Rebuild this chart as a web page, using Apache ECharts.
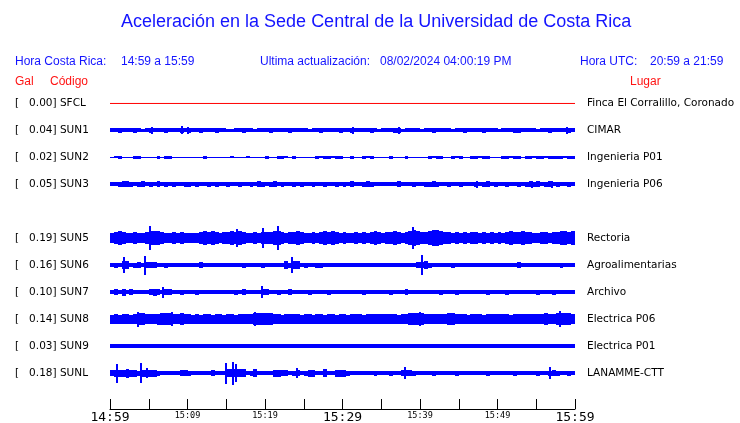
<!DOCTYPE html>
<html><head><meta charset="utf-8">
<script src="https://cdn.jsdelivr.net/npm/echarts@6/dist/echarts.min.js"></script>
<style>html,body{margin:0;padding:0;background:#fff}#c{width:740px;height:423px}</style>
</head><body><div id="c"></div>
<script>
// ---- data ----
const codes = ['SFCL','SUN1','SUN2','SUN3',null,'SUN5','SUN6','SUN7','SUN8','SUN9','SUNL'];
const peakGal = [0.00,0.04,0.02,0.05,null,0.19,0.16,0.10,0.14,0.03,0.18];
const places = ['Finca El Corralillo, Coronado','CIMAR','Ingenieria P01','Ingenieria P06',null,'Rectoria','Agroalimentarias','Archivo','Electrica P06','Electrica P01','LANAMME-CTT'];
const timeLabels = ['14:59','15:09','15:19','15:29','15:39','15:49','15:59'];
const sampleStep = 0.5; // minutes per envelope sample
const ampSFCL = [0,0];
// dense band half-amplitude, one value per half minute
const bandSUN1 = [
2,2,2.5,2,2,2,2.5,2,1.5,2, 2.5,2,2,2,2.5,2,2,2,2.5,2, 2.5,2,2,2.5,2,2,2,2.5,2,2, 1.5,1.5,2,2,2.5,2,2,1.5,2,2,
2,2.5,2,2,2,2,2.5,2,2,2, 2,1.5,2,2,2.5,2,2,2,2,2.5, 2,2,2.5,2,2,2,2,2.5,2,1.5, 2,2,2,2.5,2.5,1.5,2,2,2,2,
1.5,2,2,2.5,2,2,2,2,1.5,2, 2,2.5,2,2,2,2,2.5,2,2,2, 1.5,2,2,2,2.5,2.5,2,2,2,2, 1.5,2,2,2.5,2,2,2,2,2.5,2];
const bandSUN2 = [
0.75,1,1.5,0.75,0.75,0.75,1.5,1.5,0.75,0.75, 0.75,0.75,1.5,0.75,1.5,1.5,0.75,0.75,0.75,0.75,
0.75,0.75,0.75,0.75,1.5,0.75,0.75,0.75,0.75,0.75, 0.75,1,0.75,0.75,0.75,1,0.75,0.75,0.75,0.75,
1.5,0.75,0.75,1.5,1.5,1,0.75,1.5,0.75,0.75, 0.75,0.75,0.75,1.5,1,1.5,1.5,1,1.5,1.5,
0.75,0.75,1.5,0.75,0.75,1.5,1,1.5,0.75,0.75, 0.75,0.75,1.5,0.75,0.75,0.75,1.5,0.75,0.75,0.75,
0.75,0.75,1.5,1,1.5,1.5,0.75,0.75,1.5,1, 1.5,0.75,0.75,1.5,1.5,1,1.5,1.5,0.75,0.75,
0.75,1.5,1.5,1,1.5,1.5,0.75,1.5,1.5,1, 1.5,1.5,1,1.5,1.5,1.5,1.5,1,1.5,1.5];
const bandSUN3 = [
2,2,2.5,3,3,2.5,2,2.5,3,2, 2.5,2,3,2,2.5,2,2.5,2,2,2.5, 2.5,2,2.5,2,2,2.5,2,2.5,2,2,
2.5,2,2,2.5,2,2,2.5,2,3,2.5, 2,2.5,3,2,2.5,2,2,2.5,2,2.5, 2,2,2.5,2,2,2.5,2,2,2.5,2,
2.5,2,3,2,2,2.5,3,2.5,2,2, 2,2,2,2,3,2,2,2,2.5,2, 2,2.5,2.5,3,2.5,2,2,2.5,2,2,
2.5,2,2,2,2.5,2,2.5,3,2,2.5, 2,2,2.5,2,2,2.5,2,2.5,3,2.5, 3,2,2.5,3,2,2.5,2,2,2.5,2];
const bandSUN5 = [
5,6,7,6,5,5,6,5,5,6, 7,7,7,6,5,5,6,5,6,5, 5,5,5,6,7,6,7,6,5,6, 6,7,6,7,6,5,5,6,5,6,
6,6,7,7,6,5,6,6,7,6, 5,5,6,5,6,7,6,7,6,5, 6,5,5,6,5,6,5,6,7,6, 5,6,6,7,6,5,6,7,8,7,
6,6,7,8,8,7,6,6,5,6, 5,6,5,6,6,5,6,5,6,5, 6,5,6,7,6,6,7,6,6,5, 5,6,6,5,6,6,7,7,6,7];
const bandSUN6 = [
2,2.5,2,4,4,2,2.5,3,2,3, 3,3,2,2,2.5,2,2,2,2,2, 2,2,2,3,2,2,2,2,2,2, 2,2,2,2,2.5,2,2,2,2,2.5,
2,2,2,2,2,4,2.5,4,4,2, 2.5,2,2,2.5,2.5,2,2,2,2,2, 2,2,2,2,2,2,2,2,2,2, 2,2,2,2,2,2,2,2,2,3,
3,4,2.5,2,2,2,2,2,2.5,2, 2,2,2,2,2,2,2,2,2,2, 2,2,2,2,2,3,2,2,2,2, 2,2,2,2,2,2,2.5,2,2,2];
const bandSUN7 = [
2,3,2,3.5,2,3,2,2,2,2, 3,3.5,3,2,3,3,2,2,2.5,2, 2,2,2.5,2,2,2,2,2,2,2, 2,2,2.5,2,3,2,2,2,2,3,
3,2,2,2.5,2,2,3,2,2,2, 2,2.5,2,2,2,2,2.5,2,2,2, 2,2,2,2,2,2.5,2,2,2,2, 2,2,2.5,2,2,2,3,2,2,2,
2,2,2,2,2,2.5,2,2,2,2.5, 2,2,2,2,2,2,2,2.5,2,2, 2,2,2.5,2,2,2,2,2,2,2, 2.5,2,2,2,2.5,2,2,2,2,2];
const bandSUN8 = [
4.5,5,4.5,5,5,4.5,5,6,6,5, 5,5,5.5,6,6,6,5,5,6,5, 5,4.5,5,4.5,5,5,4.5,5,5,4.5, 5,5,4.5,5,5,5,5,6,6,6,
6,6,5,5,4.5,5,5,5,5,4.5, 5,5,4.5,5,5,4.5,5,5,4.5,5, 5,4.5,5,5,5,4.5,5,5,5,5, 5,5,5,5,4.5,5,5,6,6,6,
6,5,5,5,5,5,5,6,6,5, 5,5,4.5,5,5,5,4.5,5,5,5, 5,5,5,4.5,5,5,5,5,5,5, 5,5,6,5,5,6,6,6,6,5];
const bandSUN9 = [
1.75,1.75,2,1.75,1.75,1.75,1.75,1.75,2,1.75, 1.75,1.75,1.75,1.75,1.75,2,1.75,1.75,1.75,1.75,
1.75,1.75,1.75,1.75,1.75,1.75,1.75,2,1.75,1.75, 1.75,1.75,1.75,1.75,1.75,1.75,1.75,1.75,1.75,1.75,
1.75,1.75,1.75,2,1.75,1.75,1.75,1.75,1.75,1.75, 1.75,1.75,1.75,1.75,1.75,1.75,1.75,1.75,1.75,1.75,
1.75,1.75,1.75,1.75,1.75,1.75,2,1.75,1.75,1.75, 1.75,1.75,1.75,1.75,1.75,1.75,1.75,1.75,1.75,1.75,
1.75,1.75,1.75,1.75,1.75,1.75,1.75,1.75,1.75,1.75, 1.75,1.75,2,1.75,1.75,1.75,1.75,1.75,1.75,1.75,
1.75,1.75,1.75,1.75,1.75,1.75,1.75,1.75,1.75,1.75, 1.75,1.75,1.75,1.75,1.75,1.75,1.75,1.75,1.75,1.75];
const bandSUNL = [
3,3.5,3.5,3.5,4.5,3.5,3.5,2.5,3.5,3.5, 3.5,3.5,2.5,2,2,2,2,2,3,3, 2.5,2,2,2,2,2,3,2,2,2, 4,4,4,4,4,2,2.5,4,2,2,
2,2,3.5,3.5,3,3,2,2.5,3,2, 2.5,3.5,3.5,2,2,4,2,2,3.5,3.5, 3.5,2.5,2,2,2,2,2,2,2.5,2, 2,2,2.5,2,2,3,3,3,2.5,2,
2,2,2,2.5,2,2,2,2,2,2.5, 2,2,2,2,2,2,2,2.5,2,2, 2,2,2,2,2.5,2,2,2,2,2, 2.5,2,2,2.5,3,2.5,2,2,2.5,2];
// isolated spikes: [minute, half-amplitude]
const spikesSUN1 = [[5.4,3.5],[9.3,4],[10.1,3.5],[31.4,3.5],[37.3,3.5],[59,3.5]];
const spikesSUN2 = [];
const spikesSUN3 = [[47.4,3.5],[54.4,3.5],[57,3.5]];
const spikesSUN5 = [[5.2,12],[16.4,9],[19.7,10],[21.7,12],[39.1,11]];
const spikesSUN6 = [[1.8,8],[4.5,9.5],[23.5,8],[40.3,10]];
const spikesSUN7 = [[6.8,5.5],[19.6,6]];
const spikesSUN8 = [[3.6,7.5],[8.0,7],[18.7,7],[40.0,7],[58.1,8]];
const spikesSUN9 = [];
const spikesSUNL = [[0.9,9.5],[4.0,10],[4.8,5],[15.0,10.5],[15.9,11.5],[16.3,9],[24.1,5],[38.1,6],[56.8,6]];
const bands = [null, bandSUN1, bandSUN2, bandSUN3, null, bandSUN5, bandSUN6, bandSUN7, bandSUN8, bandSUN9, bandSUNL];
const spikes = [null, spikesSUN1, spikesSUN2, spikesSUN3, null, spikesSUN5, spikesSUN6, spikesSUN7, spikesSUN8, spikesSUN9, spikesSUNL];

// ---- build ----
const ROW_PX = 27; // amplitude units per row
const bandData = [];
bands.forEach((arr, row) => {
  if (!arr) return;
  arr.forEach((a, i) => bandData.push([i * sampleStep, row, a]));
});
const spikeData = [];
spikes.forEach((arr, row) => {
  if (!arr) return;
  arr.forEach(([t, a]) => spikeData.push([t, row, a]));
});
const sfclData = [[0, ampSFCL[0]], [60, ampSFCL[1]]];

const BLUE = '#1414ff';
const RED = '#ff1414';
const F12 = '12px "Liberation Sans"';
const chart = echarts.init(document.getElementById('c'), null, {renderer: 'canvas'});
chart.setOption({
  animation: false,
  backgroundColor: '#fff',
  title: {
    text: 'Aceleración en la Sede Central de la Universidad de Costa Rica',
    left: 121, top: 13, padding: 0,
    textStyle: {fontFamily: 'Liberation Sans', fontSize: 18, fontWeight: 'normal', color: BLUE}
  },
  graphic: [
    {type: 'text', left: 15, top: 56, style: {text: 'Hora Costa Rica:', font: F12, fill: BLUE}},
    {type: 'text', left: 121, top: 56, style: {text: '14:59 a 15:59', font: F12, fill: BLUE}},
    {type: 'text', left: 260, top: 56, style: {text: 'Ultima actualización:', font: F12, fill: BLUE}},
    {type: 'text', left: 380, top: 56, style: {text: '08/02/2024 04:00:19 PM', font: F12, fill: BLUE}},
    {type: 'text', left: 580, top: 56, style: {text: 'Hora UTC:', font: F12, fill: BLUE}},
    {type: 'text', left: 650, top: 56, style: {text: '20:59 a 21:59', font: F12, fill: BLUE}},
    {type: 'text', left: 15, top: 76, style: {text: 'Gal', font: F12, fill: RED}},
    {type: 'text', left: 50, top: 76, style: {text: 'Código', font: F12, fill: RED}},
    {type: 'text', left: 630, top: 76, style: {text: 'Lugar', font: F12, fill: RED}}
  ],
  grid: {left: 110, right: 165, top: 76.5, bottom: 14, containLabel: false, outerBoundsMode: 'none'},
  xAxis: {
    type: 'value', min: 0, max: 60, interval: 5, position: 'bottom',
    axisLine: {onZero: false, lineStyle: {color: '#000', width: 1}},
    axisTick: {inside: true, length: 10, lineStyle: {color: '#000'}},
    splitLine: {show: false},
    axisLabel: {
      margin: 2, showMinLabel: true, showMaxLabel: true, hideOverlap: false,
      formatter: v => {
        if (v % 10 !== 0) return '';
        const s = timeLabels[v / 10];
        return v % 30 === 0 ? '{b|' + s + '}' : '{s|' + s + '}';
      },
      rich: {
        b: {fontFamily: 'DejaVu Sans Mono', fontSize: 13, color: '#000', lineHeight: 13},
        s: {fontFamily: 'DejaVu Sans Mono', fontSize: 8.5, color: '#000', lineHeight: 9}
      }
    }
  },
  yAxis: [
    {
      type: 'value', inverse: true, min: -1, max: 34 / 3, interval: 1,
      axisLine: {show: false}, axisTick: {show: false}, splitLine: {show: false},
      axisLabel: {
        align: 'left', margin: 95, color: '#000', fontFamily: 'DejaVu Sans', fontSize: 10.5,
        formatter: v => {
          const i = Math.round(v);
          return codes[i] ? '[   ' + peakGal[i].toFixed(2) + '] ' + codes[i] : '';
        }
      }
    },
    {
      type: 'value', inverse: true, min: -1, max: 34 / 3, interval: 1, position: 'right',
      axisLine: {show: false}, axisTick: {show: false}, splitLine: {show: false},
      axisLabel: {
        align: 'left', margin: 12, color: '#000', fontFamily: 'DejaVu Sans', fontSize: 10.5,
        formatter: v => places[Math.round(v)] || ''
      }
    }
  ],
  series: [
    {
      type: 'line', data: sfclData, symbol: 'none', silent: true,
      lineStyle: {color: '#ff0000', width: 1}
    },
    {
      type: 'custom', data: bandData, silent: true,
      encode: {x: 0, y: 1},
      renderItem: (params, api) => {
        const t = api.value(0), row = api.value(1), a = api.value(2);
        const p0 = api.coord([t, row]);
        const p1 = api.coord([t + sampleStep, row]);
        const h = api.size([0, a / ROW_PX])[1];
        const x0 = Math.round(p0[0]), x1 = Math.round(p1[0]);
        const y0 = Math.round(p0[1] - h), y1 = Math.round(p0[1] + h);
        return {
          type: 'rect',
          shape: {x: x0, y: y0, width: x1 - x0, height: y1 - y0},
          style: {fill: '#0000ff'}
        };
      }
    },
    {
      type: 'custom', data: spikeData, silent: true,
      encode: {x: 0, y: 1},
      renderItem: (params, api) => {
        const t = api.value(0), row = api.value(1), a = api.value(2);
        const p = api.coord([t, row]);
        const h = api.size([0, a / ROW_PX])[1];
        const x0 = Math.round(p[0] - 1);
        const y0 = Math.round(p[1] - h), y1 = Math.round(p[1] + h);
        return {
          type: 'rect',
          shape: {x: x0, y: y0, width: 2, height: y1 - y0},
          style: {fill: '#0000ff'}
        };
      }
    }
  ]
});
</script></body></html>
